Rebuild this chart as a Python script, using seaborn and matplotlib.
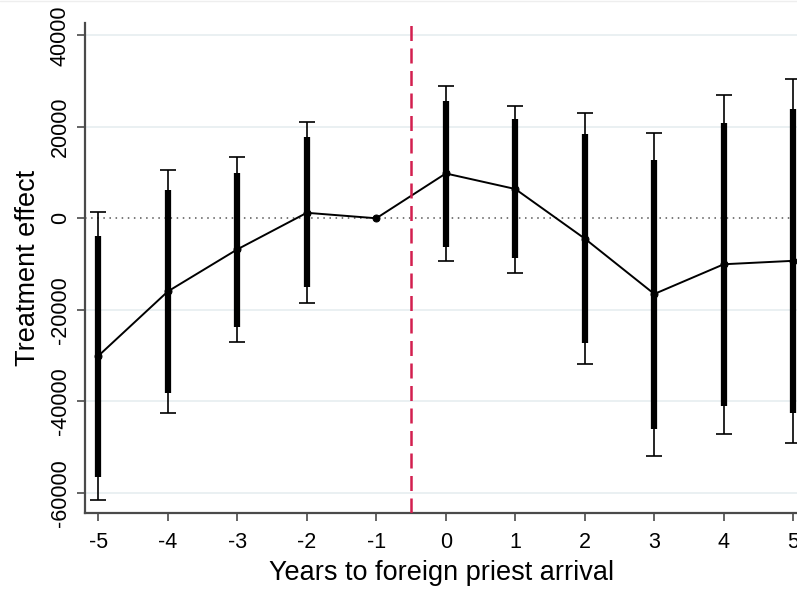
import numpy as np
import pandas as pd
import matplotlib
matplotlib.use("Agg")
import matplotlib.pyplot as plt
import seaborn as sns

# event-study estimates
years = [-5, -4, -3, -2, -1, 0, 1, 2, 3, 4, 5]
coef = [-30100, -16000, -6800, 1200, 0, 9800, 6400, -4450, -16550, -10050, -9300]
# wide interval (thin line with caps)
ci_lo = [-61600, -42600, -27000, -18450, np.nan, -9300, -11900, -31900, -52000, -47150, -49050]
ci_hi = [1450, 10550, 13400, 21000, np.nan, 28900, 24600, 22950, 18650, 26900, 30400]
# narrow interval (thick bar)
ci_lo_in = [-56500, -38300, -23700, -15000, np.nan, -6200, -8750, -27300, -46100, -41000, -42500]
ci_hi_in = [-3900, 6200, 10000, 17700, np.nan, 25700, 21650, 18400, 12750, 20750, 23800]
y_ticks = [-60000, -40000, -20000, 0, 20000, 40000]

df = pd.DataFrame({"year": years, "coef": coef,
                   "lo": ci_lo, "hi": ci_hi, "lo_in": ci_lo_in, "hi_in": ci_hi_in})

sns.set_theme(style="white")
plt.rcParams["font.family"] = ["Liberation Sans", "DejaVu Sans"]
plt.rcParams["text.color"] = "black"

fig = plt.figure(figsize=(7.97, 5.91), dpi=100)
ax = fig.add_axes([0.107, 0.1315, 0.893, 0.830])

# light horizontal grid (Stata-like)
for yv in y_ticks:
    if yv != 0:
        ax.axhline(yv, color="#e8eff1", lw=1.3, zorder=0)
ax.axhline(0, color="#555555", lw=1.1, ls=(0, (1, 3)), zorder=1)

# thin CI with caps
ok = df.dropna()
ax.errorbar(ok["year"], ok["coef"],
            yerr=[ok["coef"] - ok["lo"], ok["hi"] - ok["coef"]],
            fmt="none", ecolor="black", elinewidth=1.2, capsize=5.5, capthick=1.2, zorder=2)
# thick CI bars
ax.vlines(ok["year"], ok["lo_in"], ok["hi_in"], color="black", lw=4.5, zorder=3)

# point estimates connected
sns.lineplot(data=df, x="year", y="coef", ax=ax, color="black", lw=1.4,
             marker="o", markersize=5, markeredgecolor="black", zorder=4)

ax.axvline(-0.5, color="#d31f4f", lw=1.8, ls=(0, (6, 3)), zorder=5)

ax.set_xlim(-5.187, 5.053)
ax.set_ylim(-64500, 42750)
ax.set_xticks(years)
ax.set_xticklabels([str(v) for v in years])
ax.set_yticks(y_ticks)
ax.set_yticklabels([str(v) for v in y_ticks], rotation=90, va="center")

ax.tick_params(axis="both", which="both", direction="out", length=5.5, width=1.2,
               color="#4a4a4a", labelsize=15.5, labelcolor="black")
ax.tick_params(axis="x", bottom=True, pad=8)
ax.tick_params(axis="y", left=True, pad=5)

for side in ["top", "right"]:
    ax.spines[side].set_visible(False)
for side in ["left", "bottom"]:
    ax.spines[side].set_color("#4a4a4a")
    ax.spines[side].set_linewidth(1.6)

ax.set_xlabel("Years to foreign priest arrival", fontsize=19.5, labelpad=5, color="black")
ax.set_ylabel("Treatment effect", fontsize=19.5, labelpad=6, color="black")

# faint border at the top of the image
fig.add_artist(plt.Line2D([0, 1], [0.998, 0.998], transform=fig.transFigure,
                          color="#eeeeee", lw=1))

fig.savefig("out.png", dpi=100)
